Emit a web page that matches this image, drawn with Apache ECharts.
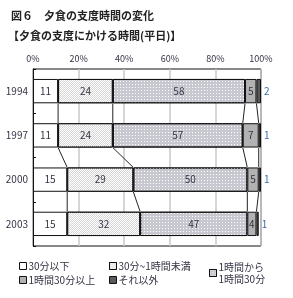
<!DOCTYPE html>
<html><head><meta charset="utf-8">
<script src="https://cdn.jsdelivr.net/npm/echarts@6/dist/echarts.min.js"></script>
<style>html,body{margin:0;padding:0;background:#fff}#c{width:293px;height:298px}</style>
</head><body><div id="c"></div>
<script>
const years = ['1994','1997','2000','2003'];
const under30 = [11, 11, 15, 15];
const m30to60 = [24, 24, 29, 32];
const h1to90 = [58, 57, 50, 47];
const over90 = [5, 7, 5, 4];
const other = [2, 1, 1, 1];
const seriesNames = ['30分以下','30分~1時間未満','1時間から\n1時間30分','1時間30分以上','それ以外'];
const xTicks = [0,20,40,60,80,100];

const F = '"Noto Sans CJK JP", sans-serif';
const TXT = '#333344';
const allData = [under30, m30to60, h1to90, over90, other];
const BAR = 0.55;

const cum = years.map((_, i) => {
  let s = 0; const out = [];
  allData.forEach(a => { s += a[i]; out.push(s); });
  return out;
});

const styles = [
  {color:'#ffffff'},
  {color:'#ffffff', decal:{symbol:'rect', symbolSize:1, color:'#d6d6d6', dashArrayX:[[1,1],[0,1,1,0]], dashArrayY:[1,0], rotation:0}},
  {color:'#c8c8d0', decal:{symbol:'rect', symbolSize:1, color:'#ffffff', dashArrayX:[1,2], dashArrayY:[1,2], rotation:0}},
  {color:'#b2b2b2'},
  {color:'#5a5a5a'}
];

const barSeries = allData.map((arr, k) => ({
  name: seriesNames[k],
  type: 'bar',
  stack: 'a',
  barWidth: (BAR*100)+'%',
  data: arr,
  itemStyle: Object.assign({borderColor:'#111', borderWidth:1}, styles[k]),
  label: k === 4 ? {show:true, position:'right', distance:3, fontSize:10, color:'#3a6ea8', fontFamily:F}
                 : {show:true, position:'inside', fontSize:10, color:TXT, fontFamily:F},
  emphasis:{disabled:true}
}));

const connector = {
  type:'custom',
  coordinateSystem:'cartesian2d',
  silent:true,
  z:5,
  data: [[0,0],[0,1],[0,2]],
  renderItem: function(params, api){
    const i = params.dataIndex;
    const band = api.size([0,1])[1];
    const h = band*BAR/2;
    const children = [];
    for (let k = 0; k < 4; k++) {
      const a = api.coord([cum[i][k], i]);
      const b = api.coord([cum[i+1][k], i+1]);
      children.push({type:'line', shape:{x1:a[0], y1:a[1]+h, x2:b[0], y2:b[1]-h}, style:{stroke:'#222', lineWidth:1}});
    }
    return {type:'group', children};
  }
};

const legendCommon = {orient:'vertical', itemWidth:7, itemHeight:7, itemGap:4, icon:'rect',
  textStyle:{fontSize:10, color:TXT, fontFamily:F, padding:[0,0,0,-3]}, selectedMode:false, itemStyle:{borderColor:'#111', borderWidth:1}};

const chart = echarts.init(document.getElementById('c'));
chart.setOption({
  animation:false,
  title:[
    {text:'図６　夕食の支度時間の変化', left:6, top:5, textStyle:{fontSize:11, fontWeight:'bold', color:'#222', fontFamily:F}},
    {text:'【夕食の支度にかける時間(平日)】', left:3, top:25, textStyle:{fontSize:11, fontWeight:'bold', color:'#222', fontFamily:F}}
  ],
  legend:[
    Object.assign({}, legendCommon, {left:14, top:256, data:[seriesNames[0], seriesNames[3]]}),
    Object.assign({}, legendCommon, {left:104, top:256, data:[seriesNames[1], seriesNames[4]]}),
    Object.assign({}, legendCommon, {left:204, top:256, data:[seriesNames[2]], textStyle:{fontSize:10, color:TXT, fontFamily:F, lineHeight:12, padding:[0,0,0,-3]}})
  ],
  grid:{left:33, right:32, top:69, bottom:52, show:true, borderColor:'#111', borderWidth:1, containLabel:false},
  xAxis:{type:'value', position:'top', min:0, max:100, interval:20,
    axisLine:{show:false}, axisTick:{show:false},
    axisLabel:{formatter:'{value}%', fontSize:9, color:TXT, fontFamily:F, margin:6},
    splitLine:{show:true, lineStyle:{color:'#c8c8c8', width:1.5}}},
  yAxis:{type:'category', inverse:true, data:years,
    axisLine:{show:true, lineStyle:{color:'#111'}},
    axisTick:{show:true, inside:true, length:3, lineStyle:{color:'#111'}},
    axisLabel:{fontSize:10, color:TXT, fontFamily:F, margin:5}},
  series: barSeries.concat([connector])
});
</script></body></html>
